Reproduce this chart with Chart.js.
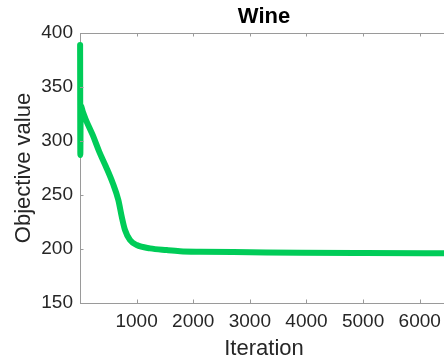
<!DOCTYPE html>
<html>
<head>
<meta charset="utf-8">
<script src="https://cdn.jsdelivr.net/npm/chart.js@4"></script>
<style>
html,body{margin:0;padding:0;overflow:hidden;background:#fff;}
#wrap{width:450px;height:362px;}
</style>
</head>
<body>
<div id="wrap"><canvas id="c" width="450" height="362"></canvas></div>
<script>
const chartTitle = 'Wine';
const xLabel = 'Iteration';
const yLabel = 'Objective value';
const iterations = [2, 6, 12, 50, 106, 224, 341, 459, 578, 677, 737, 795, 883, 1002, 1237, 1532, 1767, 2120, 3000, 3887, 5000, 6500];
const objective  = [389, 287, 333, 327, 319.4, 305.6, 290, 276.2, 261.1, 245.4, 230, 217.6, 208.3, 203.7, 200.6, 199, 198, 197.5, 197, 196.5, 196.2, 196];
const xTicks = [1000, 2000, 3000, 4000, 5000, 6000];
const yTicks = [150, 200, 250, 300, 350, 400];

const AXIS = '#9a9a9a';
const TXT = '#262626';
const FONT = "'Liberation Sans', Arial, Helvetica, sans-serif";

const framePlugin = {
  id: 'frame',
  afterDraw(chart) {
    const {ctx, chartArea: a, scales: {x, y}} = chart;
    ctx.save();
    ctx.strokeStyle = AXIS;
    ctx.lineWidth = 1;
    ctx.beginPath();
    ctx.moveTo(a.left, a.top + 0.5); ctx.lineTo(a.right, a.top + 0.5);
    ctx.moveTo(a.right - 0.5, a.top); ctx.lineTo(a.right - 0.5, a.bottom);
    const tl = 3.5;
    xTicks.forEach(v => {
      const px = Math.round(x.getPixelForValue(v)) + 0.5;
      ctx.moveTo(px, a.bottom); ctx.lineTo(px, a.bottom - tl);
      ctx.moveTo(px, a.top); ctx.lineTo(px, a.top + tl);
    });
    yTicks.forEach(v => {
      const py = Math.round(y.getPixelForValue(v)) + 0.5;
      ctx.moveTo(a.left, py); ctx.lineTo(a.left + tl, py);
      ctx.moveTo(a.right, py); ctx.lineTo(a.right - tl, py);
    });
    ctx.stroke();
    ctx.fillStyle = '#000';
    ctx.font = "bold 22px " + FONT;
    ctx.textAlign = 'center';
    ctx.textBaseline = 'middle';
    ctx.fillText(chartTitle, (a.left + a.right) / 2, 17);
    ctx.restore();
  }
};

new Chart(document.getElementById('c'), {
  type: 'line',
  data: {
    datasets: [{
      data: iterations.map((it, i) => ({x: it, y: objective[i]})),
      borderColor: 'rgb(0,204,88)',
      borderWidth: 6,
      pointRadius: 0,
      fill: false,
      cubicInterpolationMode: 'monotone',
      borderCapStyle: 'round',
      borderJoinStyle: 'round',
      clip: false
    }]
  },
  options: {
    responsive: false,
    animation: false,
    devicePixelRatio: 1,
    layout: {padding: {top: 33, right: 2, left: 0, bottom: 0}},
    plugins: {legend: {display: false}, tooltip: {enabled: false}, title: {display: false}},
    scales: {
      x: {
        type: 'linear', min: 0, max: 6500,
        afterBuildTicks: s => { s.ticks = xTicks.map(v => ({value: v})); },
        afterFit: s => { s.height = 59; },
        grid: {display: false, drawTicks: false},
        border: {display: true, color: AXIS, width: 1},
        ticks: {color: TXT, font: {family: FONT, size: 19}, padding: 7, maxRotation: 0, autoSkip: false,
                callback: v => String(v)},
        title: {display: true, text: xLabel, color: TXT, font: {family: FONT, size: 22}, padding: {top: 0, bottom: 0}}
      },
      y: {
        type: 'linear', min: 150, max: 400,
        afterBuildTicks: s => { s.ticks = yTicks.map(v => ({value: v})); },
        afterFit: s => { s.width = 80; },
        grid: {display: false, drawTicks: false},
        border: {display: true, color: AXIS, width: 1},
        ticks: {color: TXT, font: {family: FONT, size: 19}, padding: 7, autoSkip: false,
                callback: v => String(v)},
        title: {display: true, text: yLabel, color: TXT, font: {family: FONT, size: 22}, padding: {top: 11, bottom: 0}}
      }
    }
  },
  plugins: [framePlugin]
});
</script>
</body>
</html>
